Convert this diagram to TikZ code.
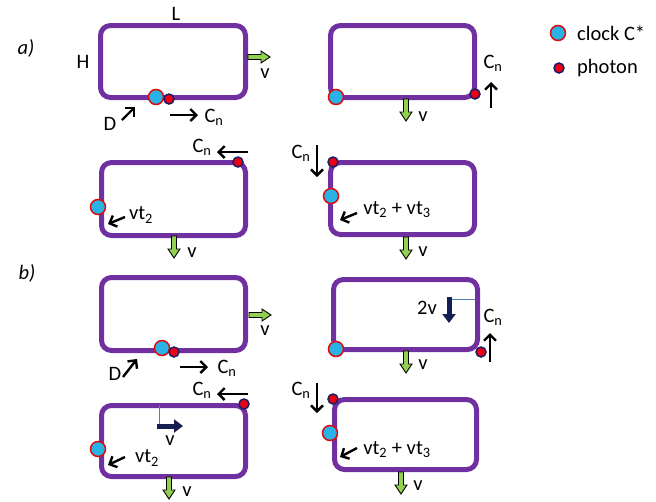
\documentclass[tikz,border=0pt]{standalone}
\usepackage{fontspec}
\setmainfont{Carlito}
\usepackage{tikz}
\usetikzlibrary{arrows.meta}

\definecolor{framepurple}{RGB}{112,48,160}
\definecolor{clockcyan}{RGB}{40,178,230}
\definecolor{clockred}{RGB}{225,10,10}
\definecolor{photonred}{RGB}{235,0,20}
\definecolor{photonblue}{RGB}{30,30,100}
\definecolor{vgreen}{RGB}{146,208,80}
\definecolor{navyv}{RGB}{20,30,80}
\definecolor{lineblue}{RGB}{79,129,189}

\tikzset{
    frame/.style={draw=framepurple, line width=5pt, rounded corners=10pt},
    clock/.style={circle, draw=clockred, fill=clockcyan, line width=1.5pt, minimum size=15pt, inner sep=0pt},
    photon/.style={circle, draw=photonblue, fill=photonred, line width=1.5pt, minimum size=10pt, inner sep=0pt},
    lbl/.style={font=\fontsize{20.5}{24}\selectfont, inner sep=0pt},
    blk/.style={line width=2.4pt, -{Straight Barb[length=6pt,width=12pt]}},
    navyarrow/.style={navyv, line width=5pt, -{Triangle[length=9pt,width=13pt]}},
    greenv/.pic={\draw[line width=0.9pt, fill=vgreen] (0,-2.5) -- (13,-2.5) -- (13,-6) -- (22,0) -- (13,6) -- (13,2.5) -- (0,2.5) -- cycle;}
}

\begin{document}
\begin{tikzpicture}[x=1pt,y=-1pt]
    \useasboundingbox (0,0) rectangle (656,501);
    % a)
    \node[lbl] (a) at (26,48) {\textit{a)}};
    \draw[frame] (100.5,25.5) rectangle (245.5,97.5);
    \node[lbl] (L) at (176,14) {L};
    \node[lbl] (H) at (83,62) {H};
    \node[clock] (c1) at (156,97) {};
    \node[photon] (p1) at (169,99) {};
    \pic at (248,57) {greenv};
    \node[lbl] (v1) at (265,74) {v};
    \draw[blk] (122,120) -- (135,107);
    \node[lbl] (D1) at (110,124) {D};
    \draw[blk] (170,115) -- (198,115);
    \node[lbl] (cn1) at (214,117) {C\textsubscript{n}};

    \draw[frame] (330.5,25.5) rectangle (474.5,97.5);
    \node[clock] (c2) at (336,97) {};
    \node[photon] (p2) at (475,94) {};
    \node[lbl] (cn2) at (493,63) {C\textsubscript{n}};
    \draw[blk] (491,108) -- (491,82);
    \pic[rotate=-90] at (406,99) {greenv};
    \node[lbl] (v2) at (423,117) {v};

    \node[clock] (lc) at (558,33) {};
    \node[lbl, anchor=west] (lct) at (577,33) {clock C*};
    \node[photon] (lp) at (559,68) {};
    \node[lbl, anchor=west] (lpt) at (577,68) {photon};

    \draw[frame] (101.5,162.5) rectangle (245.5,235.5);
    \node[clock] (c3) at (98,207) {};
    \node[photon] (p3) at (238,162) {};
    \draw[blk] (248,152) -- (217,152);
    \node[lbl] (cn3) at (202,147) {C\textsubscript{n}};
    \draw[blk] (125,217) -- (108,224);
    \node[lbl] (vt3) at (141,215) {vt\textsubscript{2}};
    \pic[rotate=-90] at (174,236) {greenv};
    \node[lbl] (v3) at (192,253) {v};

    \draw[frame] (330.5,162.5) rectangle (474.5,234.5);
    \node[clock] (c4) at (331,196) {};
    \node[photon] (p4) at (333,162) {};
    \node[lbl] (cn4) at (301,153) {C\textsubscript{n}};
    \draw[blk] (317,145) -- (317,177);
    \draw[blk] (357,213) -- (340,220);
    \node[lbl] (vt4) at (397,210) {vt\textsubscript{2} + vt\textsubscript{3}};
    \pic[rotate=-90] at (406,237) {greenv};
    \node[lbl] (v4) at (423,252) {v};

    % b)
    \node[lbl] (b) at (27,273) {\textit{b)}};
    \draw[frame] (101.5,277.5) rectangle (245.5,350.5);
    \node[clock] (c5) at (162,348) {};
    \node[photon] (p5) at (174,352) {};
    \pic at (249,315) {greenv};
    \node[lbl] (v5) at (265,331) {v};
    \draw[blk] (123,377) -- (137,359);
    \node[lbl] (D5) at (115,374) {D};
    \draw[blk] (180,367) -- (208,367);
    \node[lbl] (cn5) at (227,368) {C\textsubscript{n}};

    \draw[frame] (333.5,279.5) rectangle (477.5,349.5);
    \node[clock] (c6) at (336,349) {};
    \node[photon] (p6) at (481,352) {};
    \node[lbl] (cn6) at (493,317) {C\textsubscript{n}};
    \draw[blk] (490,362) -- (490,333);
    \draw[lineblue, line width=0.8pt] (449,299) -- (475,299);
    \draw[navyarrow] (449,297) -- (449,323);
    \node[lbl] (v6n) at (427,308) {2v};
    \pic[rotate=-90] at (406,351) {greenv};
    \node[lbl] (v6) at (423,365) {v};

    \draw[frame] (101.5,405.5) rectangle (245.5,476.5);
    \node[clock] (c7) at (98,449) {};
    \node[photon] (p7) at (244,404) {};
    \draw[blk] (248,394) -- (217,394);
    \node[lbl] (cn7) at (202,390) {C\textsubscript{n}};
    \draw[blk] (125,457) -- (108,465);
    \node[lbl] (vt7) at (147,458) {vt\textsubscript{2}};
    \draw[lineblue, line width=0.8pt] (159,405) -- (159,427);
    \draw[navyarrow] (157,426) -- (183,426);
    \node[lbl] (v7n) at (170,441) {v};
    \pic[rotate=-90] at (169,477) {greenv};
    \node[lbl] (v7) at (187,492) {v};

    \draw[frame] (334.5,399.5) rectangle (476.5,469.5);
    \node[clock] (c8) at (330,433) {};
    \node[photon] (p8) at (333,399) {};
    \node[lbl] (cn8) at (301,390) {C\textsubscript{n}};
    \draw[blk] (317,383) -- (317,413);
    \draw[blk] (357,448) -- (340,457);
    \node[lbl] (vt8) at (397,450) {vt\textsubscript{2} + vt\textsubscript{3}};
    \pic[rotate=-90] at (401,472) {greenv};
    \node[lbl] (v8) at (418,486) {v};
\end{tikzpicture}
\end{document}
